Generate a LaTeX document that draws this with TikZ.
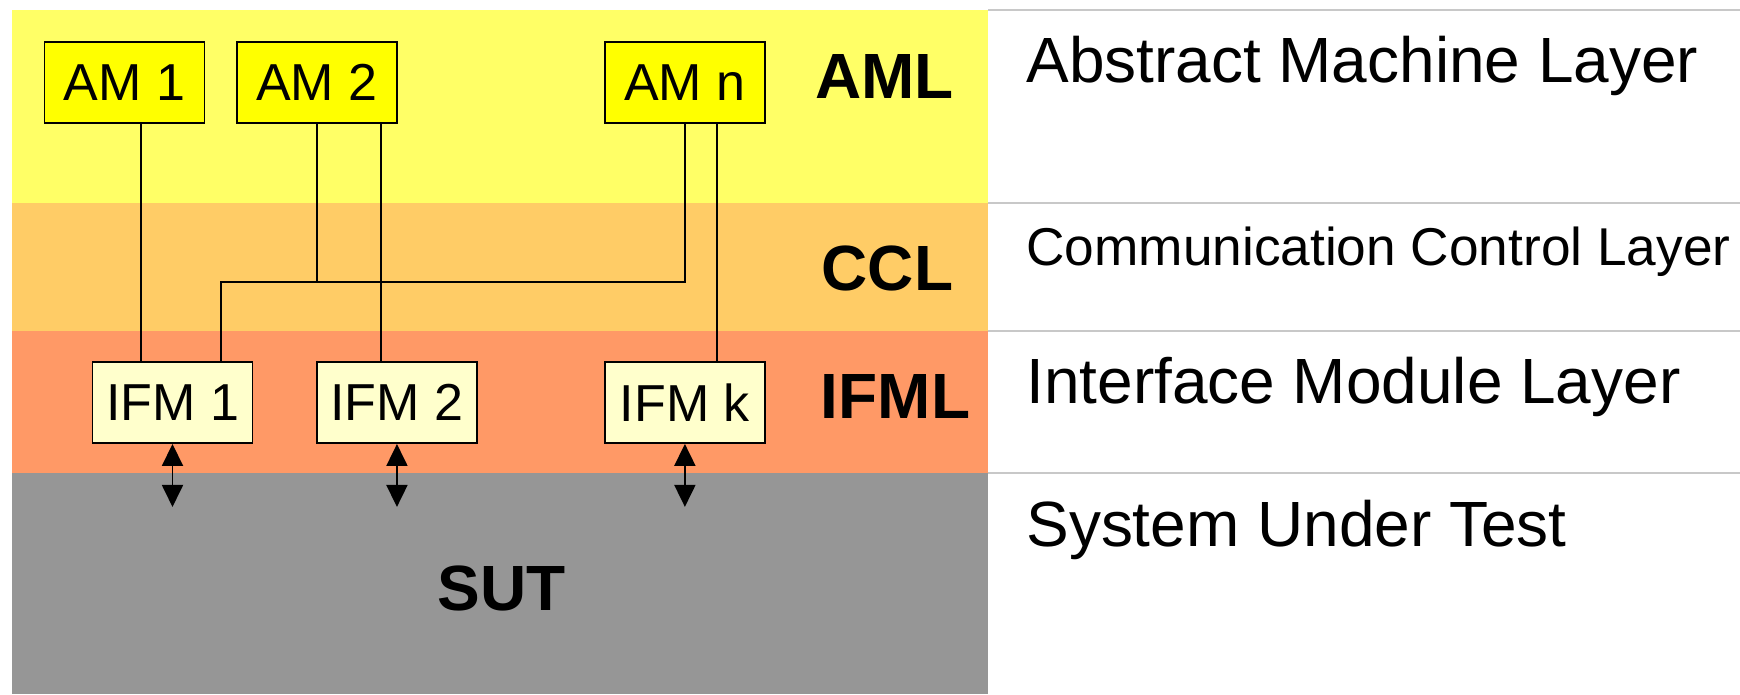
\documentclass[tikz,border=0pt]{standalone}
\usepackage{fontspec}
\setmainfont{Liberation Sans}
\usetikzlibrary{arrows.meta, positioning}

\definecolor{amlyellow}{HTML}{FFFF66}
\definecolor{cclorange}{HTML}{FFCC66}
\definecolor{ifmlsalmon}{HTML}{FF9966}
\definecolor{sutgrey}{HTML}{969696}
\definecolor{amfill}{HTML}{FFFF00}
\definecolor{ifmfill}{HTML}{FFFFCC}
\definecolor{rulegrey}{HTML}{C8C8C8}

\begin{document}
\begin{tikzpicture}[x=0.02cm, y=-0.02cm, on grid,
        am/.style={draw, line width=1.1pt, fill=amfill, minimum width=3.2cm, minimum height=1.62cm, inner sep=0pt, font=\fontsize{29.6}{32}\selectfont},
        ifm/.style={am, fill=ifmfill},
        layer/.style={inner sep=0pt, anchor=base, font=\fontsize{36.4}{40}\selectfont\bfseries},
        descr/.style={inner sep=0pt, anchor=base west, font=\fontsize{36.4}{40}\selectfont},
        wire/.style={line width=1.1pt},
        >={Triangle[length=0.44cm, width=0.42cm]}]
        \useasboundingbox (0,0) rectangle (1740,694);

        % layer bands
        \fill[amlyellow]  (12,10)  rectangle (988,203);
        \fill[cclorange]  (12,203) rectangle (988,331);
        \fill[ifmlsalmon] (12,331) rectangle (988,473);
        \fill[sutgrey]    (12,473) rectangle (988,694);
        \foreach \y in {10,203,331,473}
            \draw[rulegrey, line width=1pt] (988,\y) -- (1740,\y);

        \node[am]       (am1)    at (124.5,82.5)                {AM 1};
        \node[am]       (am2)    [right=3.85cm of am1]          {AM 2};
        \node[am]       (amn)    [right=7.36cm of am2]          {AM n};
        \node[ifm]      (ifm1)   at (172.5,402.5)               {IFM 1};
        \node[ifm]      (ifm2)   [right=4.49cm of ifm1]         {IFM 2};
        \node[ifm]      (ifmk)   [below=6.4cm of amn]           {IFM k};

        \node[layer]    (aml)    at (884.5,98)                  {AML};
        \node[layer]    (ccl)    at (887.5,290)                 {CCL};
        \node[layer]    (ifml)   at (895.5,418)                 {IFML};
        \node[layer]    (sut)    at (501.5,610)                 {SUT};

        \node[descr]    (amltxt)  at (1026,82)                  {Abstract Machine Layer};
        \node[descr, font=\fontsize{30.3}{34}\selectfont]
                        (ccltxt)  at (1026,265)                 {Communication Control Layer};
        \node[descr]    (ifmltxt) at (1026,403)                 {Interface Module Layer};
        \node[descr]    (suttxt)  at (1026,546)                 {System Under Test};

        % wiring
        \coordinate (bus) at (317,282);
        \draw[wire] ([xshift=0.33cm]am1.south) -- ([xshift=0.33cm]am1.south |- ifm1.north);
        \draw[wire] (am2.south) -- (bus) -| ([xshift=0.97cm]ifm1.north);
        \draw[wire] (amn.south) |- (bus);
        \draw[wire] ([xshift=1.28cm]am2.south) -- ([xshift=1.28cm]am2.south |- ifm2.north);
        \draw[wire] ([xshift=0.64cm]amn.south) -- ([xshift=0.64cm]amn.south |- ifmk.north);

        % links to the SUT
        \coordinate[below=1.26cm of ifm1.south] (s1);
        \coordinate[below=1.26cm of ifm2.south] (s2);
        \coordinate[below=1.26cm of ifmk.south] (sk);
        \draw[wire, <->] (ifm1.south) -- (s1);
        \draw[wire, <->] (ifm2.south) -- (s2);
        \draw[wire, <->] (ifmk.south) -- (sk);
    \end{tikzpicture}
\end{document}
